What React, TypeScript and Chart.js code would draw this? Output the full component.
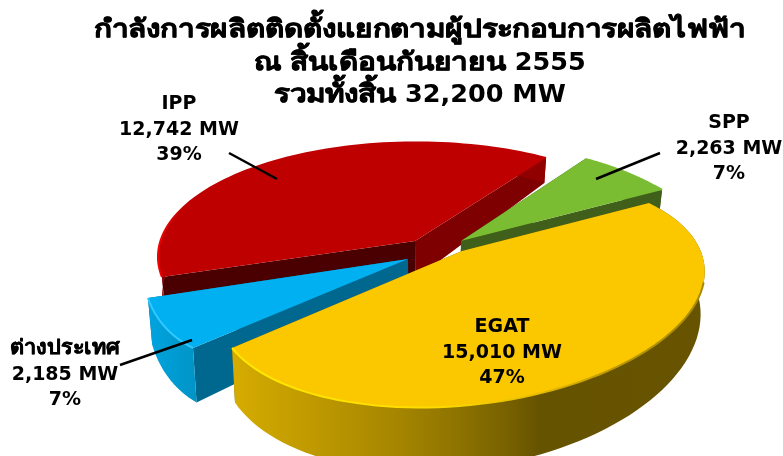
import React, { useEffect, useRef } from "react";
import { Chart, registerables } from "chart.js";

Chart.register(...registerables);

const categories = ["EGAT", "ต่างประเทศ", "IPP", "SPP"];
const capacityMW = [15010, 2185, 12742, 2263];
const percentLabels = ["47%", "7%", "39%", "7%"];
const titleLines = [
  "กำลังการผลิตติดตั้งแยกตามผู้ประกอบการผลิตไฟฟ้า",
  "ณ สิ้นเดือนกันยายน 2555",
  "รวมทั้งสิ้น 32,200 MW",
];

const topColors = ["#FBC800", "#00B0F0", "#BE0000", "#7ABD32"];
const FONT = "'DejaVu Sans', Verdana, 'Noto Sans', sans-serif";

// Per-slice projection of the tilted, exploded pie: each sector's arc lies on an
// ellipse (e + m cos p + n sin p), p = (angle - a0) * kappa, with its own apex.
const views = [
  { apex: [462, 251], e: [461.4, 291.2], m: [120, 90], n: [-211.7, 73.6], a0: 53.9, kappa: 1.192 },
  { apex: [408, 259], e: [408, 150], m: [-243, 177], n: [-106.4, -118.2], a0: 150.03, kappa: 1 },
  { apex: [415, 241], e: [417, 257.4], m: [-149, -94.4], n: [211.9, -65.7], a0: 233.47, kappa: 0.9125 },
  { apex: [461, 241], e: [565, 272], m: [60, -100], n: [175.8, 70.8], a0: 317.35, kappa: 1 },
];
const paintOrder = [2, 3, 1, 0];
const wallStartColor = ["#6A5600", "#00688F", "#4A0000", "#2F4A12"];
const wallEndColor = ["#6A5600", "#00688F", "#7F0000", "#3F5F1A"];
const wallOuterStops: [number, string][][] = [
  [[232, "#D6AC00"], [300, "#C29C00"], [400, "#A58500"], [460, "#8C7200"], [500, "#7B6400"], [540, "#665300"], [703, "#675300"]],
  [[148, "#00A4E0"], [196, "#0094C6"]],
  [[160, "#900000"], [546, "#900000"]],
  [[585, "#3F5F1A"], [662, "#3F5F1A"]],
];
const rimStops: [number, string][][] = [
  [[232, "#FFE800"], [430, "#FFDC00"], [540, "#E6BC00"], [620, "#B89600"], [703, "#A88A00"]],
  [[148, "#30C8FF"], [196, "#30C8FF"]],
  [[158, "#F40000"], [185, "#C00000"], [546, "#C00000"]],
  [[585, "#7ABD32"], [662, "#7ABD32"]],
];
const rimFrom = [0.22, 0, 0, 0];

const labelCenters = [[502, 326], [65, 348], [179, 103], [729, 122]];
const leaders = [null, [120, 365, 192, 340], [229, 153, 277, 179], [660, 153, 596, 179]];

const bottomOf = (p: number[]) => [430 + (p[0] - 430) * 0.985, p[1] * 1.156 + 0.3];

function gradient(ctx: CanvasRenderingContext2D, stops: [number, string][]) {
  const x0 = stops[0][0];
  const x1 = stops[stops.length - 1][0];
  const g = ctx.createLinearGradient(x0, 0, x1, 0);
  stops.forEach(([x, c]) => g.addColorStop((x - x0) / (x1 - x0), c));
  return g;
}

function poly(ctx: CanvasRenderingContext2D, pts: number[][]) {
  ctx.beginPath();
  pts.forEach((p, i) => (i ? ctx.lineTo(p[0], p[1]) : ctx.moveTo(p[0], p[1])));
  ctx.closePath();
}

// Thai glyphs come from a narrow, light fallback font, so they are widened and given a
// hairline stroke to sit next to the Latin runs.
const THAI = /[\u0E00-\u0E7F]/;
function mixedText(
  ctx: CanvasRenderingContext2D,
  text: string,
  cx: number,
  baseline: number,
  latinSize: number,
  thaiSize: number,
  stretch: number,
  embolden: number
) {
  const runs = text.split(/([\u0E00-\u0E7F]+)/).filter(Boolean);
  const fontOf = (r: string) => `bold ${THAI.test(r) ? thaiSize : latinSize}px ${FONT}`;
  const widthOf = (r: string) => {
    ctx.font = fontOf(r);
    return ctx.measureText(r).width * (THAI.test(r) ? stretch : 1);
  };
  const width = runs.reduce((sum, r) => sum + widthOf(r), 0);
  let x = cx - width / 2;
  runs.forEach((r) => {
    const w = widthOf(r);
    ctx.font = fontOf(r);
    if (THAI.test(r)) {
      ctx.save();
      ctx.translate(x, baseline);
      ctx.scale(stretch, 1);
      ctx.fillText(r, 0, 0);
      ctx.lineWidth = embolden;
      ctx.strokeText(r, 0, 0);
      ctx.restore();
    } else {
      ctx.fillText(r, x, baseline);
    }
    x += w;
  });
}

const pie3d = {
  id: "pie3d",
  beforeDatasetDraw(chart: any) {
    const { ctx } = chart;
    const arcs = chart.getDatasetMeta(0).data;
    paintOrder.forEach((i) => {
      const v = views[i];
      const arc = arcs[i];
      const start = (arc.startAngle * 180) / Math.PI;
      const end = (arc.endAngle * 180) / Math.PI;
      const pts: number[][] = [];
      const steps = 80;
      for (let s = 0; s <= steps; s++) {
        const a = start + ((end - start) * s) / steps;
        const p = (((a - v.a0) * v.kappa) * Math.PI) / 180;
        pts.push([
          v.e[0] + v.m[0] * Math.cos(p) + v.n[0] * Math.sin(p),
          v.e[1] + v.m[1] * Math.cos(p) + v.n[1] * Math.sin(p),
        ]);
      }
      const first = pts[0];
      const last = pts[pts.length - 1];
      const quad = (q: number[]) => [v.apex, q, bottomOf(q), bottomOf(v.apex)];
      ctx.save();
      const backFirst = i === 1;
      const walls = backFirst
        ? [[last, wallEndColor[i]], [first, wallStartColor[i]]]
        : [[first, wallStartColor[i]], [last, wallEndColor[i]]];
      walls.forEach(([q, c]: any) => {
        poly(ctx, quad(q));
        ctx.fillStyle = c;
        ctx.fill();
      });
      poly(ctx, [...pts, ...pts.map(bottomOf).reverse()]);
      ctx.fillStyle = gradient(ctx, wallOuterStops[i]);
      ctx.fill();
      poly(ctx, [v.apex, ...pts]);
      ctx.fillStyle = arc.options.backgroundColor;
      ctx.fill();
      ctx.beginPath();
      pts
        .slice(Math.round(rimFrom[i] * steps))
        .forEach((p, k) => (k ? ctx.lineTo(p[0], p[1]) : ctx.moveTo(p[0], p[1])));
      ctx.strokeStyle = gradient(ctx, rimStops[i]);
      ctx.lineWidth = 2;
      ctx.stroke();
      ctx.restore();
    });
    return false;
  },
  afterDatasetsDraw(chart: any) {
    const { ctx } = chart;
    ctx.save();
    ctx.strokeStyle = "#000";
    ctx.lineWidth = 2.5;
    leaders.forEach((l) => {
      if (!l) return;
      ctx.beginPath();
      ctx.moveTo(l[0], l[1]);
      ctx.lineTo(l[2], l[3]);
      ctx.stroke();
    });
    ctx.fillStyle = "#000";
    ctx.textAlign = "left";
    ctx.textBaseline = "alphabetic";
    ctx.lineJoin = "round";
    categories.forEach((name, i) => {
      const [x, y] = labelCenters[i];
      mixedText(ctx, name, x, y + 6, 19, 20, 1.08, 0.5);
      mixedText(ctx, `${capacityMW[i].toLocaleString("en-US")} MW`, x, y + 31.5, 19, 20, 1.08, 0.5);
      mixedText(ctx, percentLabels[i], x, y + 57, 19, 20, 1.08, 0.5);
    });
    titleLines.forEach((line, i) => {
      mixedText(ctx, line, 420, 37 + i * 32.5, 25.5, 25, 1.185, 0.7);
    });
    ctx.restore();
  },
};

export default function App() {
  const ref = useRef<HTMLCanvasElement>(null);
  useEffect(() => {
    const chart = new Chart(ref.current as HTMLCanvasElement, {
      type: "pie",
      data: {
        labels: categories,
        datasets: [{ data: capacityMW, backgroundColor: topColors, borderWidth: 0 }],
      },
      options: {
        responsive: false,
        animation: false,
        rotation: 60,
        plugins: {
          legend: { display: false },
          tooltip: { enabled: false },
          title: { display: false },
        },
      } as any,
      plugins: [pie3d],
    });
    return () => chart.destroy();
  }, []);
  return (
    <div style={{ position: "fixed", left: 0, top: 0 }}>
      <canvas ref={ref} width={783} height={456} style={{ display: "block" }} />
    </div>
  );
}
